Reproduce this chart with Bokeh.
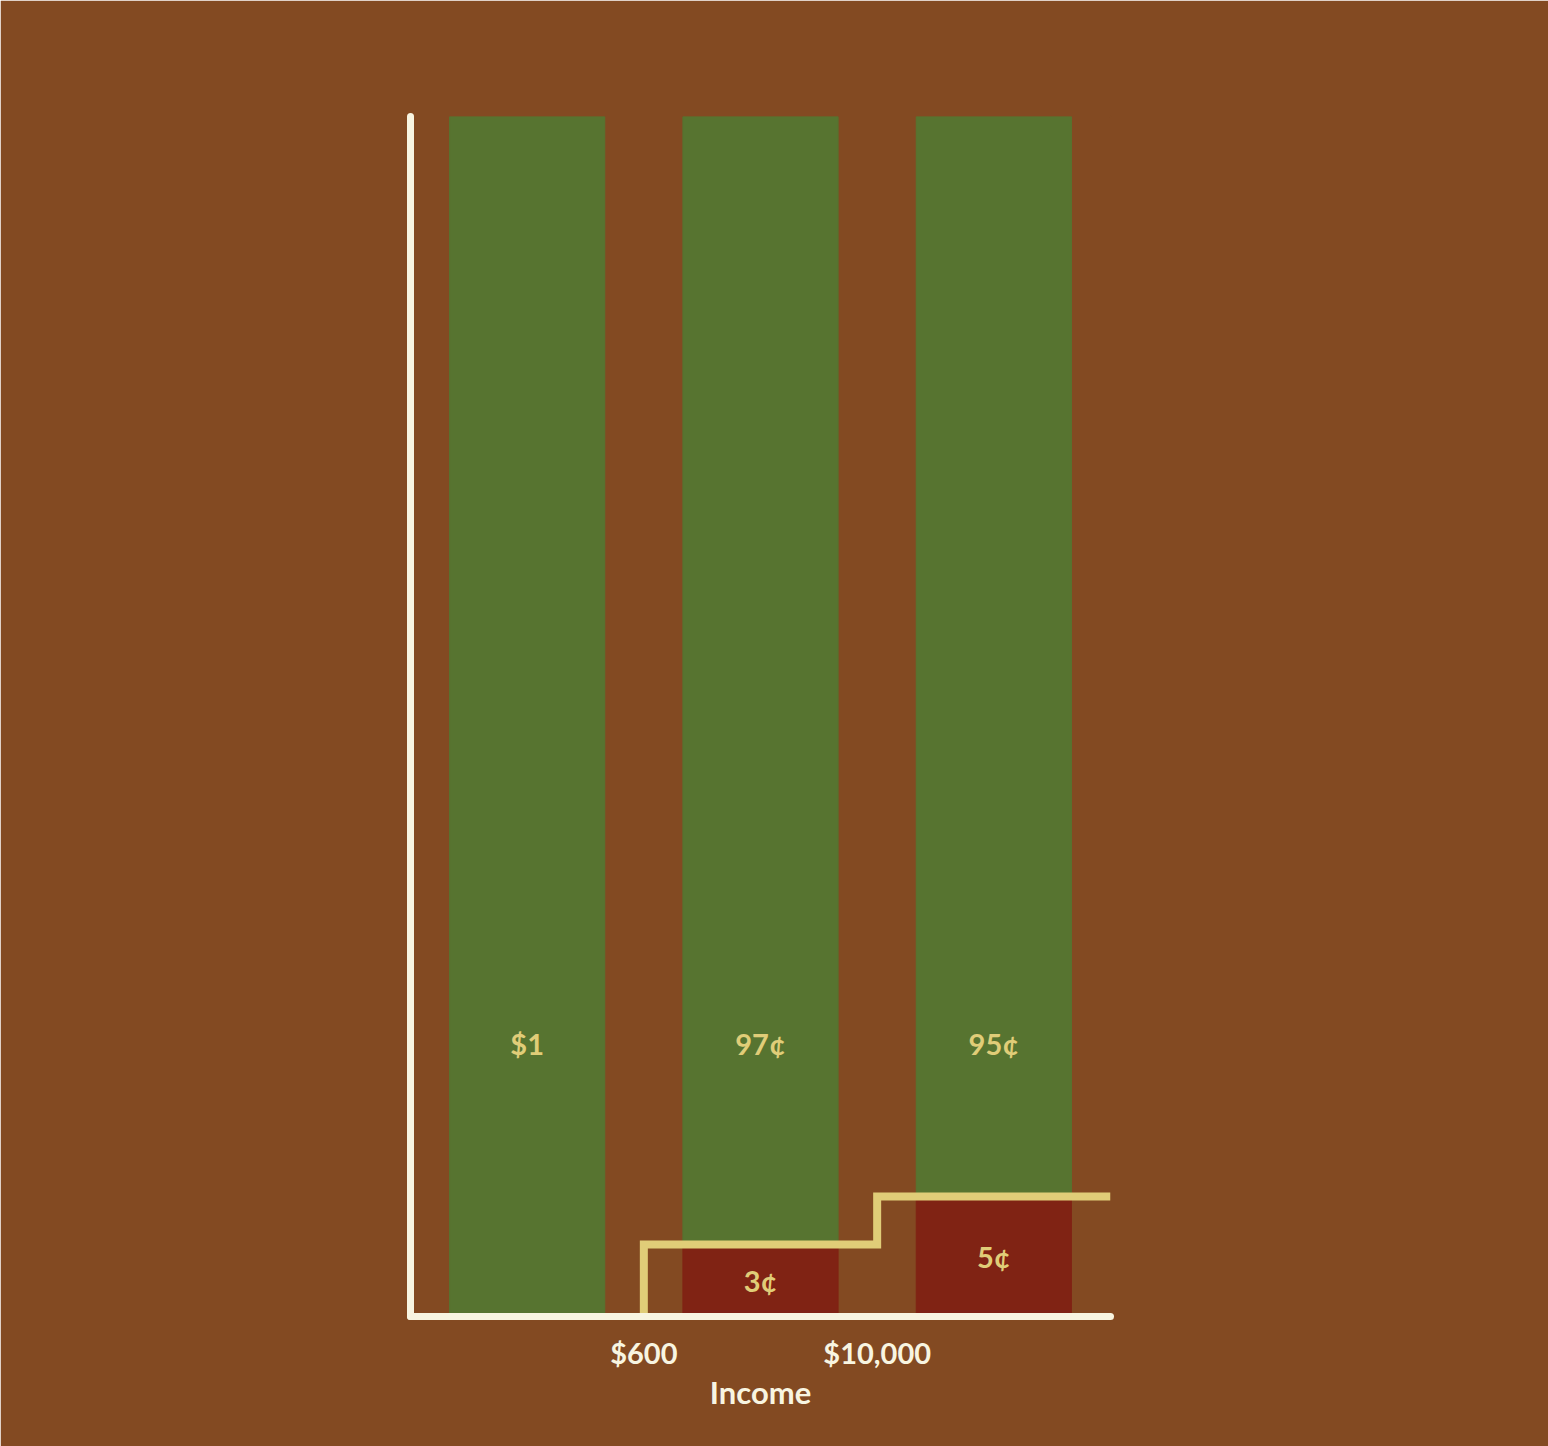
from bokeh.plotting import figure
from bokeh.models import FixedTicker, ColumnDataSource
from bokeh.core.properties import value
from bokeh.embed import file_html
from bokeh.resources import INLINE

# data
brackets = ["up to $600", "$600 to $10,000", "over $10,000"]
bar_pos = [0, 1, 2]
kept_share = [1.0, 0.97, 0.95]
tax_drawn = [0.0, 0.06, 0.10]          # drawn heights of the red (tax) parts
kept_labels = ["$1", "97¢", "95¢"]
tax_labels = ["", "3¢", "5¢"]
threshold_pos = [0.5, 1.5]
threshold_labels = ["$600", "$10,000"]

BG = "#834A22"
GREEN = "#577430"
RED = "#802314"
YELLOW = "#E0CD78"
CREAM = "#F8F5E1"
FONT = "Lato"

p = figure(width=1548, height=1446, x_range=(-0.5, 2.5), y_range=(0, 1.0),
           output_backend="svg", toolbar_location=None,
           min_border_left=410, min_border_right=438,
           min_border_top=116, min_border_bottom=130)
p.background_fill_color = BG
p.border_fill_color = BG
p.outline_line_color = BG
p.outline_line_width = 2
p.xgrid.visible = False
p.ygrid.visible = False

src = ColumnDataSource(dict(x=bar_pos, tax=tax_drawn, top=[1.0, 1.0, 1.0],
                            kept_lab=kept_labels, tax_lab=tax_labels,
                            kept_y=[0.2275] * 3,
                            tax_y=[t / 2 for t in tax_drawn]))

p.vbar(x="x", bottom="tax", top="top", width=0.665, color=GREEN, source=src)
p.vbar(x="x", bottom=0, top="tax", width=0.665, color=RED, source=src)

# step line of the tax rate
sx = [threshold_pos[0], threshold_pos[0], threshold_pos[1], 2.5]
sy = [0, tax_drawn[1], tax_drawn[2], tax_drawn[2]]
p.step(sx, sy, mode="after", line_color=YELLOW, line_width=8,
       line_join="miter", line_cap="butt")

p.text(x="x", y="kept_y", text="kept_lab", source=src, text_font=value(FONT),
       text_font_style="bold", text_font_size="29px", text_color=YELLOW,
       text_align="center", text_baseline="middle")
p.text(x="x", y="tax_y", text="tax_lab", source=src, text_font=value(FONT),
       text_font_style="bold", text_font_size="29px", text_color=YELLOW,
       text_align="center", text_baseline="middle")

xa = p.xaxis[0]
xa.ticker = FixedTicker(ticks=threshold_pos)
xa.major_label_overrides = {t: l for t, l in zip(threshold_pos, threshold_labels)}
xa.major_tick_line_color = None
xa.minor_tick_line_color = None
xa.axis_line_color = CREAM
xa.axis_line_width = 7
xa.axis_line_cap = "round"
xa.major_label_text_color = CREAM
xa.major_label_text_font = FONT
xa.major_label_text_font_style = "bold"
xa.major_label_text_font_size = "29px"
xa.major_label_standoff = 12
xa.axis_label = "Income"
xa.axis_label_text_color = CREAM
xa.axis_label_text_font = FONT
xa.axis_label_text_font_style = "bold"
xa.axis_label_text_font_size = "31px"
xa.axis_label_standoff = 0

ya = p.yaxis[0]
ya.ticker = FixedTicker(ticks=[])
ya.major_label_text_font_size = "0px"
ya.major_tick_line_color = None
ya.minor_tick_line_color = None
ya.axis_line_color = CREAM
ya.axis_line_width = 7
ya.axis_line_cap = "round"

open("out.html", "w").write(file_html(p, INLINE))
